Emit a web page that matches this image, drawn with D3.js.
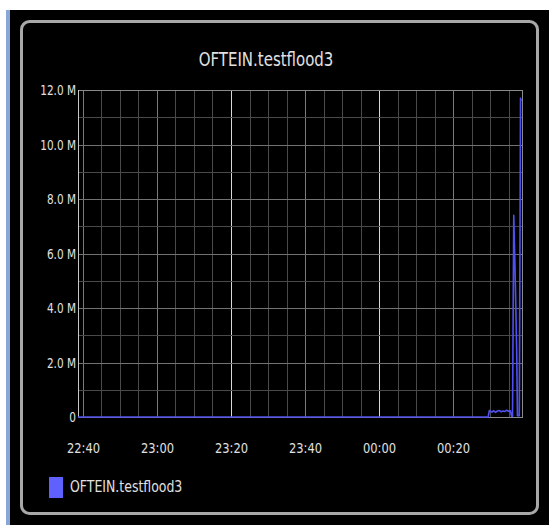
<!DOCTYPE html>
<html>
<head>
<meta charset="utf-8">
<script src="https://cdn.jsdelivr.net/npm/d3@7"></script>
<style>
  html, body { margin: 0; padding: 0; background: #fff; }
  svg { display: block; font-family: "DejaVu Sans", sans-serif; }
</style>
</head>
<body>
<div id="chart"></div>
<script>
// series data (value in millions)
var title = "OFTEIN.testflood3";
var seriesName = "OFTEIN.testflood3";
var times = [
  "2013-05-01 22:38:39", "2013-05-02 00:29:30", "2013-05-02 00:29:50",
  "2013-05-02 00:30:00", "2013-05-02 00:30:30", "2013-05-02 00:31:00",
  "2013-05-02 00:31:30", "2013-05-02 00:32:00", "2013-05-02 00:32:30",
  "2013-05-02 00:33:00", "2013-05-02 00:33:30", "2013-05-02 00:34:00",
  "2013-05-02 00:34:30", "2013-05-02 00:35:00", "2013-05-02 00:35:30",
  "2013-05-02 00:35:50", "2013-05-02 00:36:05", "2013-05-02 00:36:25",
  "2013-05-02 00:36:50", "2013-05-02 00:37:12", "2013-05-02 00:37:25",
  "2013-05-02 00:37:55", "2013-05-02 00:38:15", "2013-05-02 00:38:25"
];
var values = [
  0, 0, 0.24,
  0.22, 0.18, 0.23,
  0.17, 0.22, 0.24,
  0.19, 0.22, 0.20,
  0.25, 0.21, 0.23,
  0.02, 0.03, 7.4,
  5.0, 2.5, 0.05,
  0.05, 11.7, 11.6
];
var yTicks = [0, 2, 4, 6, 8, 10, 12];
var yMinor = [1, 3, 5, 7, 9, 11];
var xTickLabels = ["22:40", "23:00", "23:20", "23:40", "00:00", "00:20"];

var W = 549, H = 525;
var parse = d3.timeParse("%Y-%m-%d %H:%M:%S");
var data = times.map(function (t, i) { return { t: parse(t), v: values[i] }; });

var svg = d3.select("#chart").append("svg")
    .attr("width", W)
    .attr("height", H);

// page edge + panel
svg.append("rect").attr("x", 0).attr("y", 0).attr("width", W).attr("height", H).attr("fill", "#fff");
svg.append("rect").attr("x", 10).attr("y", 10).attr("width", W - 10).attr("height", H - 10).attr("fill", "#000");
svg.append("rect").attr("x", 6).attr("y", 10).attr("width", 4).attr("height", H - 10).attr("fill", "#8aa6d6");
svg.append("rect")
    .attr("x", 21.5).attr("y", 21.5)
    .attr("width", 516).attr("height", 492)
    .attr("rx", 8)
    .attr("fill", "none")
    .attr("stroke", "#a8a8a8")
    .attr("stroke-width", 3);

var plot = { left: 78, right: 523, top: 90, bottom: 417 };
var stretch = "scale(1,1.3)";

var x = d3.scaleTime()
    .domain([parse("2013-05-01 22:38:39"), parse("2013-05-02 00:38:55")])
    .range([plot.left, plot.right]);
var y = d3.scaleLinear()
    .domain([0, 12])
    .range([plot.bottom, plot.top]);

// title
svg.append("text")
    .attr("transform", "translate(266,66) " + stretch)
    .attr("text-anchor", "middle")
    .attr("fill", "#e0e0e0")
    .style("font-size", "15px")
    .text(title);

var grid = svg.append("g");

// minor vertical grid every 5 minutes
var minorTimes = x.ticks(d3.timeMinute.every(5));
grid.selectAll("line.vminor")
    .data(minorTimes)
    .enter()
    .append("line")
    .attr("class", "vminor")
    .attr("x1", function (d) { return Math.round(x(d)) + 0.5; })
    .attr("x2", function (d) { return Math.round(x(d)) + 0.5; })
    .attr("y1", plot.top)
    .attr("y2", plot.bottom)
    .attr("stroke", function (d) {
        if (d.getMinutes() % 20 != 0) return "#4a4a4a";
        if (d.getMinutes() == 20 && d.getHours() == 23) return "#d8d8d8";
        if (d.getMinutes() == 0 && d.getHours() == 0) return "#d8d8d8";
        return "#7a7a7a";
    })
    .attr("stroke-width", 1);

// horizontal grid
grid.selectAll("line.hminor")
    .data(yMinor)
    .enter()
    .append("line")
    .attr("class", "hminor")
    .attr("x1", plot.left)
    .attr("x2", plot.right)
    .attr("y1", function (d) { return Math.round(y(d)) + 0.5; })
    .attr("y2", function (d) { return Math.round(y(d)) + 0.5; })
    .attr("stroke", "#4a4a4a");

grid.selectAll("line.hmajor")
    .data(yTicks)
    .enter()
    .append("line")
    .attr("class", "hmajor")
    .attr("x1", plot.left)
    .attr("x2", plot.right)
    .attr("y1", function (d) { return Math.round(y(d)) + 0.5; })
    .attr("y2", function (d) { return Math.round(y(d)) + 0.5; })
    .attr("stroke", "#727272");

// plot frame
svg.append("rect")
    .attr("x", plot.left + 0.5).attr("y", plot.top + 0.5)
    .attr("width", plot.right - plot.left - 1)
    .attr("height", plot.bottom - plot.top)
    .attr("fill", "none")
    .attr("stroke", "#8a8a8a");
svg.append("line")
    .attr("x1", plot.left + 0.5).attr("x2", plot.left + 0.5)
    .attr("y1", plot.top).attr("y2", plot.bottom)
    .attr("stroke", "#c8c8c8");

// y axis labels
var yAxis = d3.axisLeft(y)
    .tickValues(yTicks)
    .tickSize(0)
    .tickPadding(0)
    .tickFormat(function (d) { return d == 0 ? "0" : d.toFixed(1) + " M"; });
var ya = svg.append("g")
    .attr("transform", "translate(" + (plot.left - 2) + ",0)")
    .call(yAxis);
ya.select(".domain").remove();
ya.selectAll("text")
    .attr("fill", "#e0e0e0")
    .attr("dy", "0.35em")
    .attr("transform", stretch)
    .style("font-size", "10.5px")
    .style("font-family", "DejaVu Sans, sans-serif");

// x axis labels
var xAxis = d3.axisBottom(x)
    .ticks(d3.timeMinute.every(20))
    .tickSize(0)
    .tickPadding(0)
    .tickFormat(function (d, i) { return xTickLabels[i]; });
var xa = svg.append("g")
    .attr("transform", "translate(0,448)")
    .call(xAxis);
xa.select(".domain").remove();
xa.selectAll("text")
    .attr("fill", "#e0e0e0")
    .attr("y", 0)
    .attr("dy", "0.35em")
    .attr("transform", stretch)
    .style("font-size", "11.5px")
    .style("font-family", "DejaVu Sans, sans-serif");

// series line
var line = d3.line()
    .x(function (d) { return x(d.t); })
    .y(function (d) { return y(d.v); });

svg.append("path")
    .datum(data)
    .attr("d", line)
    .attr("fill", "none")
    .attr("stroke", "#5050f0")
    .attr("stroke-width", 1.6)
    .attr("stroke-linejoin", "round");

// legend
var legend = svg.append("g").attr("transform", "translate(49,477)");
legend.append("rect")
    .attr("width", 14).attr("height", 21)
    .attr("fill", "#6060ff");
legend.append("text")
    .attr("transform", "translate(21,15) " + stretch)
    .attr("fill", "#e0e0e0")
    .style("font-size", "12.5px")
    .text(seriesName);
</script>
</body>
</html>
